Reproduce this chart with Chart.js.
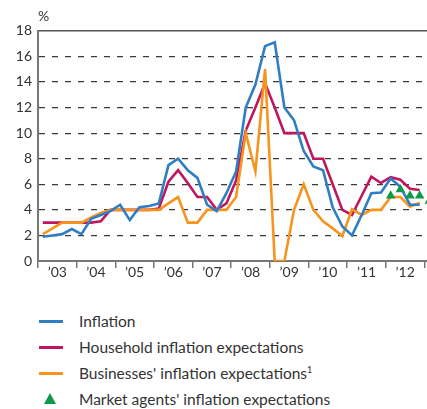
<!DOCTYPE html>
<html>
<head>
<meta charset="utf-8">
<script src="https://cdn.jsdelivr.net/npm/chart.js@4"></script>
<style>
  html, body { margin: 0; padding: 0; background: #fff; overflow: hidden; }
  canvas { display: block; }
  #legend { margin: 8px 0 0 0; padding: 0; list-style: none; font-family: Lato, sans-serif; font-size: 15.5px; color: #333; }
  #legend li { position: relative; height: 26px; line-height: 26px; padding-left: 79px; white-space: nowrap; }
  #legend .swatch { position: absolute; left: 39px; top: 12px; width: 24px; height: 3px; }
  #legend .tri { position: absolute; left: 44px; top: 7px; width: 0; height: 0;
    border-left: 6px solid transparent; border-right: 6px solid transparent; border-bottom: 11px solid; }
  #legend sup { font-size: 9px; vertical-align: 6px; line-height: 0; }
</style>
</head>
<body>
<canvas id="chart" width="427" height="300"></canvas>
<ul id="legend"></ul>
<script>
// Quarterly data, 2003 Q1 .. 2012 Q4
const years = ['\u201903', '\u201904', '\u201905', '\u201906', '\u201907', '\u201908', '\u201909', '\u201910', '\u201911', '\u201912'];

const inflation = [1.9, 2.0, 2.1, 2.5, 2.1, 3.3, 3.6, 3.9, 4.4, 3.2,
                   4.2, 4.3, 4.5, 7.5, 8.0, 7.1, 6.5, 4.4, 3.9, 5.3,
                   7.0, 12.0, 13.8, 16.8, 17.1, 12.0, 11.0, 8.6, 7.4, 7.1,
                   4.2, 2.7, 2.0, 3.6, 5.3, 5.35, 6.45, 5.8, 4.4, 4.4];

const household = [3.0, 3.0, 3.0, 3.0, 3.0, 3.0, 3.1, 4.0, 4.0, 4.0,
                   4.0, 4.0, 4.1, 6.2, 7.1, 6.1, 5.0, 5.0, 4.0, 4.5,
                   6.3, 10.2, 12.0, 13.9, 12.0, 10.0, 10.0, 10.0, 8.0, 8.0,
                   6.0, 4.0, 3.6, 5.1, 6.6, 6.1, 6.55, 6.35, 5.65, 5.55];

const businesses = [2.1, 2.55, 3.0, 3.0, 3.0, 3.4, 3.75, 4.0, 4.0, 4.0,
                    4.0, 4.0, 4.0, 4.5, 5.0, 3.0, 3.0, 4.0, 4.0, 4.0,
                    5.0, 10.0, 7.0, 15.0, 0.0, 0.0, 4.0, 6.0, 4.0, 3.1,
                    2.55, 1.95, 4.05, 3.6, 4.0, 4.0, 5.0, 5.0, 4.25, 4.55];

// market agents' expectations start in 2012 Q1
const marketStart = 36;
const marketAgents = [5.1, 5.6, 5.1, 5.1, 4.7];

const font = { family: 'Lato, sans-serif', size: 14 };
const textColor = '#333';

// points sit in the middle of their quarter
const toPoints = (arr, start = 0) => arr.map((v, i) => ({ x: start + i + 0.5, y: v }));

const lineStyle = color => ({
  borderColor: color, backgroundColor: color, borderWidth: 2.6,
  pointRadius: 0, tension: 0, fill: false
});

const chart = new Chart(document.getElementById('chart'), {
  type: 'line',
  data: {
    datasets: [
      { label: 'Inflation', data: toPoints(inflation), order: 1, ...lineStyle('#2f7dc3') },
      { label: 'Household inflation expectations', data: toPoints(household), order: 3, ...lineStyle('#c0165d') },
      { label: 'Businesses\' inflation expectations', note: '1', data: toPoints(businesses), order: 2, ...lineStyle('#f7941e') },
      { label: 'Market agents\' inflation expectations', data: toPoints(marketAgents, marketStart), order: 0,
        showLine: false, pointStyle: 'triangle', pointRadius: 5.5, borderWidth: 0,
        backgroundColor: '#0a9a48', borderColor: '#0a9a48', clip: false }
    ]
  },
  options: {
    responsive: false,
    animation: false,
    layout: { autoPadding: false, padding: 0 },
    plugins: {
      legend: { display: false },
      tooltip: { enabled: false },
      title: {
        display: true, text: '%', align: 'start', fullSize: false,
        color: textColor, font: { ...font, weight: 'normal' }, padding: { top: 8, bottom: 6 }
      }
    },
    scales: {
      x: {
        type: 'linear', min: 0, max: 40.26,
        afterBuildTicks: s => {
          s.ticks = [];
          for (let v = 0; v <= years.length * 4; v += 2) s.ticks.push({ value: v });
        },
        afterFit: s => { s.height = 39; },
        ticks: {
          autoSkip: false, maxRotation: 0, padding: -4, color: textColor, font,
          callback: v => (v % 4 === 2 ? years[(v - 2) / 4] : '')
        },
        grid: {
          drawOnChartArea: false, tickLength: 7, lineWidth: 1.5,
          color: ctx => (ctx.tick && ctx.tick.value % 4 === 0 ? '#777' : 'rgba(0,0,0,0)')
        },
        border: { color: '#777', width: 2 }
      },
      xTop: {
        type: 'linear', position: 'top', min: 0, max: 1,
        afterFit: s => { s.height = 0; },
        ticks: { display: false },
        grid: { display: false },
        border: { color: '#555', width: 1.5 }
      },
      y: {
        min: 0, max: 18,
        afterFit: s => { s.width = 38; },
        ticks: { stepSize: 2, padding: 6, color: textColor, font },
        grid: {
          drawTicks: false, lineWidth: 1.2,
          color: ctx => (ctx.tick && (ctx.tick.value === 0 || ctx.tick.value === 18) ? 'rgba(0,0,0,0)' : '#3a3a3a')
        },
        border: { color: '#777', width: 2, dash: [6, 7] }
      }
    }
  }
});

// HTML legend, one entry per row
const legend = document.getElementById('legend');
chart.data.datasets.forEach(ds => {
  const li = document.createElement('li');
  const mark = document.createElement('span');
  if (ds.pointStyle === 'triangle') {
    mark.className = 'tri';
    mark.style.borderBottomColor = ds.backgroundColor;
  } else {
    mark.className = 'swatch';
    mark.style.background = ds.borderColor;
  }
  li.appendChild(mark);
  li.appendChild(document.createTextNode(ds.label));
  if (ds.note) {
    const sup = document.createElement('sup');
    sup.textContent = ds.note;
    li.appendChild(sup);
  }
  legend.appendChild(li);
});
</script>
</body>
</html>
